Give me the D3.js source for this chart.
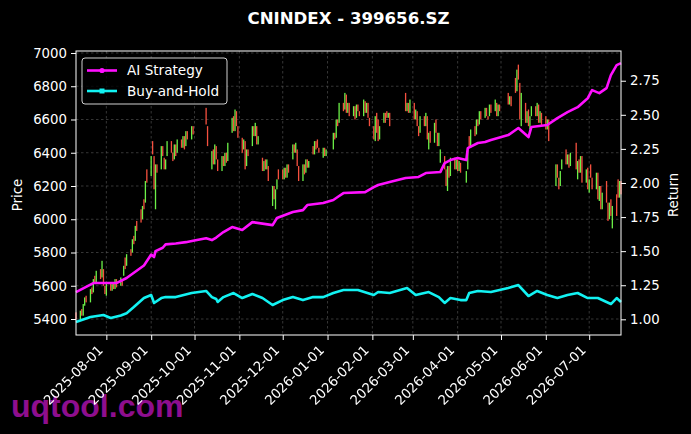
<!DOCTYPE html>
<html>
<head>
<meta charset="utf-8">
<script src="https://cdn.jsdelivr.net/npm/d3@7"></script>
<style>
  html, body { margin: 0; padding: 0; background: #000; }
  svg { display: block; font-family: "DejaVu Sans", sans-serif; }
</style>
</head>
<body>
<div id="chart"></div>
<script>
// trading calendar
var firstDay = "2025-07-11", lastDay = "2026-07-23";
var closedDays = ["2025-10-01","2025-10-02","2025-10-03","2025-10-06","2025-10-07","2025-10-08",
  "2026-01-01","2026-01-02","2026-02-16","2026-02-17","2026-02-18","2026-02-19","2026-02-20","2026-02-23",
  "2026-04-06","2026-05-01","2026-05-04","2026-05-05","2026-06-04","2026-06-05","2026-06-19"];

// daily open / close, one line per month
var opens = [
  5440,5400,5460,5420,5480,5540,5500,5590,5560,5660,5620,5700,5650,5700,5600,
  5540,5620,5570,5620,5580,5640,5600,5640,5660,5770,5720,5820,5800,5900,5870,5990,6060,6000,6120,6100,6300,
  6260,6470,6380,6060,6330,6300,6440,6370,6300,6380,6470,6400,6360,6450,6400,6480,6430,6500,6440,6530,6480,6560,
  6670,6560,6300,6420,6330,6440,6360,6290,6380,6320,6400,6350,6520,6620,6530,6650,6560,
  6490,6420,6470,6320,6420,6440,6560,6500,6560,6450,6370,6290,6360,6300,6320,6080,6200,6060,6180,6300,
  6300,6240,6310,6250,6330,6360,6450,6400,6420,6320,6230,6330,6280,6360,6310,6440,6390,6470,6480,6430,6370,6430,6380,
  6420,6520,6490,6600,6580,6700,6660,6750,6640,6700,6620,6680,6610,6690,6650,6620,6710,6640,6700,6610,
  6560,6470,6640,6600,6480,6580,6640,6650,6610,6640,6760,6650,6700,6640,
  6700,6600,6650,6560,6520,6620,6560,6620,6420,6530,6460,6600,6520,6440,6340,6380,6300,6170,6320,6260,6370,6300,
  6360,6290,6340,6220,6300,6500,6430,6560,6510,6600,6570,6650,6610,6670,6620,6620,6690,6650,6700,6620,6690,
  6760,6690,6740,6850,6770,6930,6820,6560,6700,6580,6660,6540,6620,6680,6620,6690,6580,6640,
  6620,6540,6600,6200,6330,6250,6200,6300,6420,6330,6390,6320,6460,6240,6360,6280,6380,6220,6310,
  6160,6330,6250,6180,6280,6110,6200,6060,6230,6100,6000,6120,5945,6150,6240,6130,6230
];
var closes = [
  5400,5450,5420,5490,5530,5500,5580,5550,5640,5620,5690,5640,5750,5600,5550,
  5620,5570,5610,5580,5640,5590,5650,5600,5720,5700,5790,5780,5880,5850,5960,5930,5980,6080,6060,6230,6220,
  6380,6390,6180,6330,6280,6440,6380,6300,6360,6470,6400,6350,6450,6380,6480,6430,6500,6420,6530,6480,6560,6510,
  6570,6440,6410,6330,6450,6360,6290,6380,6320,6400,6340,6460,6610,6530,6660,6560,6490,
  6400,6480,6300,6420,6380,6560,6500,6580,6450,6500,6290,6350,6300,6360,6230,6200,6120,6180,6240,6240,
  6240,6310,6250,6330,6280,6450,6400,6460,6320,6230,6330,6270,6360,6310,6350,6390,6470,6420,6430,6400,6430,6380,6420,
  6520,6480,6600,6560,6700,6650,6760,6640,6700,6620,6680,6600,6690,6650,6620,6720,6640,6700,6610,6560,
  6480,6620,6520,6470,6560,6640,6580,6610,6640,6560,6650,6700,6640,6720,
  6600,6660,6560,6500,6620,6560,6640,6480,6520,6460,6580,6520,6440,6520,6420,6300,6200,6320,6250,6370,6300,6360,
  6290,6350,6280,6290,6420,6430,6540,6500,6600,6560,6650,6600,6670,6620,6600,6690,6640,6720,6620,6690,6650,
  6690,6740,6680,6760,6900,6840,6600,6760,6580,6650,6560,6620,6680,6620,6700,6580,6650,6560,
  6540,6600,6470,6330,6250,6180,6290,6360,6330,6390,6310,6400,6300,6350,6280,6380,6220,6300,6180,
  6240,6250,6180,6280,6120,6200,6060,6160,6100,5990,6100,6020,6080,6020,6130,6230,6150
];

var aiStrategy = [
  ["2025-07-11",1.200],["2025-07-23",1.266],["2025-08-08",1.266],["2025-08-15",1.303],["2025-08-27",1.395],
  ["2025-09-01",1.475],["2025-09-03",1.457],["2025-09-04",1.500],["2025-09-09",1.525],["2025-09-11",1.550],
  ["2025-09-18",1.556],["2025-09-25",1.566],["2025-09-30",1.577],["2025-10-09",1.595],["2025-10-13",1.581],
  ["2025-10-16",1.600],["2025-10-21",1.640],["2025-10-27",1.677],["2025-11-03",1.655],["2025-11-10",1.713],
  ["2025-11-24",1.691],["2025-11-27",1.743],["2025-12-08",1.787],["2025-12-15",1.801],["2025-12-18",1.838],
  ["2025-12-29",1.853],["2026-01-05",1.875],["2026-01-08",1.897],["2026-01-12",1.926],["2026-01-27",1.933],
  ["2026-02-02",1.970],["2026-02-05",1.985],["2026-02-13",2.007],["2026-02-24",2.036],["2026-03-05",2.044],
  ["2026-03-10",2.073],["2026-03-20",2.080],["2026-03-23",2.146],["2026-03-27",2.168],["2026-04-01",2.183],
  ["2026-04-07",2.168],["2026-04-08",2.256],["2026-04-15",2.293],["2026-04-20",2.300],["2026-04-24",2.315],
  ["2026-05-06",2.351],["2026-05-13",2.403],["2026-05-20",2.337],["2026-05-22",2.410],["2026-06-02",2.425],
  ["2026-06-09",2.476],["2026-06-16",2.520],["2026-06-23",2.556],["2026-06-30",2.622],["2026-07-03",2.681],
  ["2026-07-08",2.659],["2026-07-13",2.696],["2026-07-16",2.791],["2026-07-20",2.864],["2026-07-23",2.879]
];
var buyHold = [
  ["2025-07-11",0.980],["2025-07-21",1.017],["2025-07-30",1.032],["2025-08-04",1.010],["2025-08-11",1.028],
  ["2025-08-15",1.045],["2025-08-20",1.090],["2025-08-27",1.156],["2025-09-01",1.178],["2025-09-03",1.120],
  ["2025-09-08",1.156],["2025-09-11",1.163],["2025-09-18",1.163],["2025-09-29",1.193],["2025-10-09",1.208],
  ["2025-10-13",1.163],["2025-10-16",1.149],["2025-10-17",1.127],["2025-10-21",1.163],["2025-10-28",1.193],
  ["2025-11-03",1.156],["2025-11-10",1.186],["2025-11-17",1.156],["2025-11-24",1.105],["2025-12-01",1.141],
  ["2025-12-08",1.163],["2025-12-15",1.141],["2025-12-22",1.163],["2025-12-29",1.163],["2026-01-05",1.193],
  ["2026-01-12",1.215],["2026-01-22",1.215],["2026-02-02",1.178],["2026-02-05",1.200],["2026-02-13",1.193],
  ["2026-02-25",1.229],["2026-03-03",1.178],["2026-03-12",1.200],["2026-03-19",1.163],["2026-03-23",1.120],
  ["2026-03-27",1.156],["2026-04-03",1.141],["2026-04-07",1.141],["2026-04-09",1.193],["2026-04-15",1.208],
  ["2026-04-24",1.200],["2026-05-06",1.229],["2026-05-13",1.251],["2026-05-20",1.171],["2026-05-26",1.208],
  ["2026-06-02",1.178],["2026-06-09",1.156],["2026-06-16",1.178],["2026-06-23",1.193],["2026-06-30",1.156],
  ["2026-07-07",1.156],["2026-07-13",1.127],["2026-07-16",1.112],["2026-07-20",1.156],["2026-07-23",1.127]
];

var priceTicks = [5400, 5600, 5800, 6000, 6200, 6400, 6600, 6800, 7000];
var returnTicks = [1.00, 1.25, 1.50, 1.75, 2.00, 2.25, 2.50, 2.75];
var chartTitle = "CNINDEX - 399656.SZ";

(function() {
  var width = 691, height = 434;
  var pl = 76, pr = 621, pt = 51, pb = 335;

  var parse = d3.utcParse("%Y-%m-%d");
  var fmt = d3.utcFormat("%Y-%m-%d");
  var offDays = new Set(closedDays);
  var days = d3.utcDay.range(parse(firstDay), d3.utcDay.offset(parse(lastDay), 1))
    .filter(function(d) { return d.getUTCDay() % 6 !== 0 && !offDays.has(fmt(d)); });
  var candles = days.slice(0, closes.length).map(function(d, i) {
    return { date: d, open: opens[i], close: closes[i] };
  });

  var x = d3.scaleUtc().domain([parse(firstDay), parse(lastDay)]).range([pl, pr]);
  var yP = d3.scaleLinear().domain([5303.8, 7012]).range([pb, pt]);
  var yR = d3.scaleLinear().domain([0.885, 2.968]).range([pb, pt]);

  var svg = d3.select("#chart").append("svg")
    .attr("width", width).attr("height", height)
    .style("background", "#000");

  // watermark sits under the tick labels
  svg.append("text")
    .attr("x", 11).attr("y", 417)
    .style("font-family", "'Liberation Sans', Arial, sans-serif")
    .style("font-weight", "bold").style("font-size", "32px")
    .attr("fill", "#8e0e8e")
    .text("uqtool.com");

  var monthTicks = d3.utcMonth.range(parse("2025-08-01"), parse("2026-07-02"));

  // grid
  var grid = svg.append("g").attr("stroke", "#5a5a5a").attr("stroke-width", 0.6).attr("stroke-dasharray", "2.5,2.5");
  grid.selectAll(".gx").data(monthTicks).enter().append("line")
    .attr("x1", d => x(d)).attr("x2", d => x(d)).attr("y1", pt).attr("y2", pb);
  grid.selectAll(".gy").data(priceTicks).enter().append("line")
    .attr("x1", pl).attr("x2", pr).attr("y1", d => yP(d)).attr("y2", d => yP(d));

  // candles
  var cw = 1.3;
  svg.append("g").selectAll("rect").data(candles).enter().append("rect")
    .attr("x", d => x(d.date) - cw / 2)
    .attr("width", cw)
    .attr("y", d => yP(Math.max(d.open, d.close)))
    .attr("height", d => Math.max(1, Math.abs(yP(d.open) - yP(d.close))))
    .attr("fill", d => d.close >= d.open ? "#6cf048" : "#f5503f");

  // strategy lines
  var line = d3.line().x(d => x(parse(d[0]))).y(d => yR(d[1]));
  svg.append("path").datum(buyHold).attr("d", line)
    .attr("fill", "none").attr("stroke", "#12f2f2").attr("stroke-width", 2.6).attr("stroke-linejoin", "round");
  svg.append("path").datum(aiStrategy).attr("d", line)
    .attr("fill", "none").attr("stroke", "#ff10ff").attr("stroke-width", 2.6).attr("stroke-linejoin", "round");

  // frame
  svg.append("rect").attr("x", pl).attr("y", pt).attr("width", pr - pl).attr("height", pb - pt)
    .attr("fill", "none").attr("stroke", "#fff").attr("stroke-width", 1);

  // axes
  var axL = svg.append("g").attr("transform", "translate(" + pl + ",0)")
    .call(d3.axisLeft(yP).tickValues(priceTicks).tickSize(5).tickPadding(4).tickFormat(d3.format("d")));
  var axR = svg.append("g").attr("transform", "translate(" + pr + ",0)")
    .call(d3.axisRight(yR).tickValues(returnTicks).tickSize(5).tickPadding(4).tickFormat(d3.format(".2f")));
  var axB = svg.append("g").attr("transform", "translate(0," + pb + ")")
    .style("filter", "grayscale(1)")
    .call(d3.axisBottom(x).tickValues(monthTicks).tickSize(5).tickFormat(fmt));
  [axL, axR, axB].forEach(function(a) {
    a.select(".domain").remove();
    a.selectAll(".tick line").attr("stroke", "#fff");
    a.selectAll(".tick text").attr("fill", "#fff").style("font-size", "13.3px").style("font-family", "'DejaVu Sans', sans-serif");
  });
  axB.selectAll(".tick text")
    .attr("text-anchor", "end")
    .attr("dy", null).attr("y", null)
    .attr("transform", "translate(-3,16) rotate(-45)");

  // axis titles
  svg.append("text").attr("transform", "translate(22,195) rotate(-90)")
    .attr("text-anchor", "middle").attr("fill", "#fff").style("font-size", "13.3px").text("Price");
  svg.append("text").attr("transform", "translate(678,195) rotate(-90)")
    .attr("text-anchor", "middle").attr("fill", "#fff").style("font-size", "13.3px").text("Return");

  svg.append("text").attr("x", (pl + pr) / 2).attr("y", 24)
    .attr("text-anchor", "middle").attr("fill", "#fff")
    .style("font-size", "16.6px").style("font-weight", "bold").text(chartTitle);

  // legend
  var lg = svg.append("g");
  lg.append("rect").attr("x", 82).attr("y", 58).attr("width", 145).attr("height", 46).attr("rx", 3)
    .attr("fill", "#000").attr("fill-opacity", 0.8).attr("stroke", "#d0d0d0").attr("stroke-width", 1);
  var items = [
    { label: "AI Strategy", color: "#ff10ff", shape: "circle", y: 70.5 },
    { label: "Buy-and-Hold", color: "#12f2f2", shape: "square", y: 91 }
  ];
  items.forEach(function(it) {
    lg.append("line").attr("x1", 87).attr("x2", 117).attr("y1", it.y).attr("y2", it.y)
      .attr("stroke", it.color).attr("stroke-width", 2.6);
    if (it.shape === "circle") {
      lg.append("circle").attr("cx", 102).attr("cy", it.y).attr("r", 2.6).attr("fill", it.color);
    } else {
      lg.append("rect").attr("x", 99.5).attr("y", it.y - 2.5).attr("width", 5).attr("height", 5).attr("fill", it.color);
    }
    lg.append("text").attr("x", 127).attr("y", it.y).attr("dy", "0.36em")
      .attr("fill", "#fff").style("font-size", "13.6px").text(it.label);
  });
})();
</script>
</body>
</html>
